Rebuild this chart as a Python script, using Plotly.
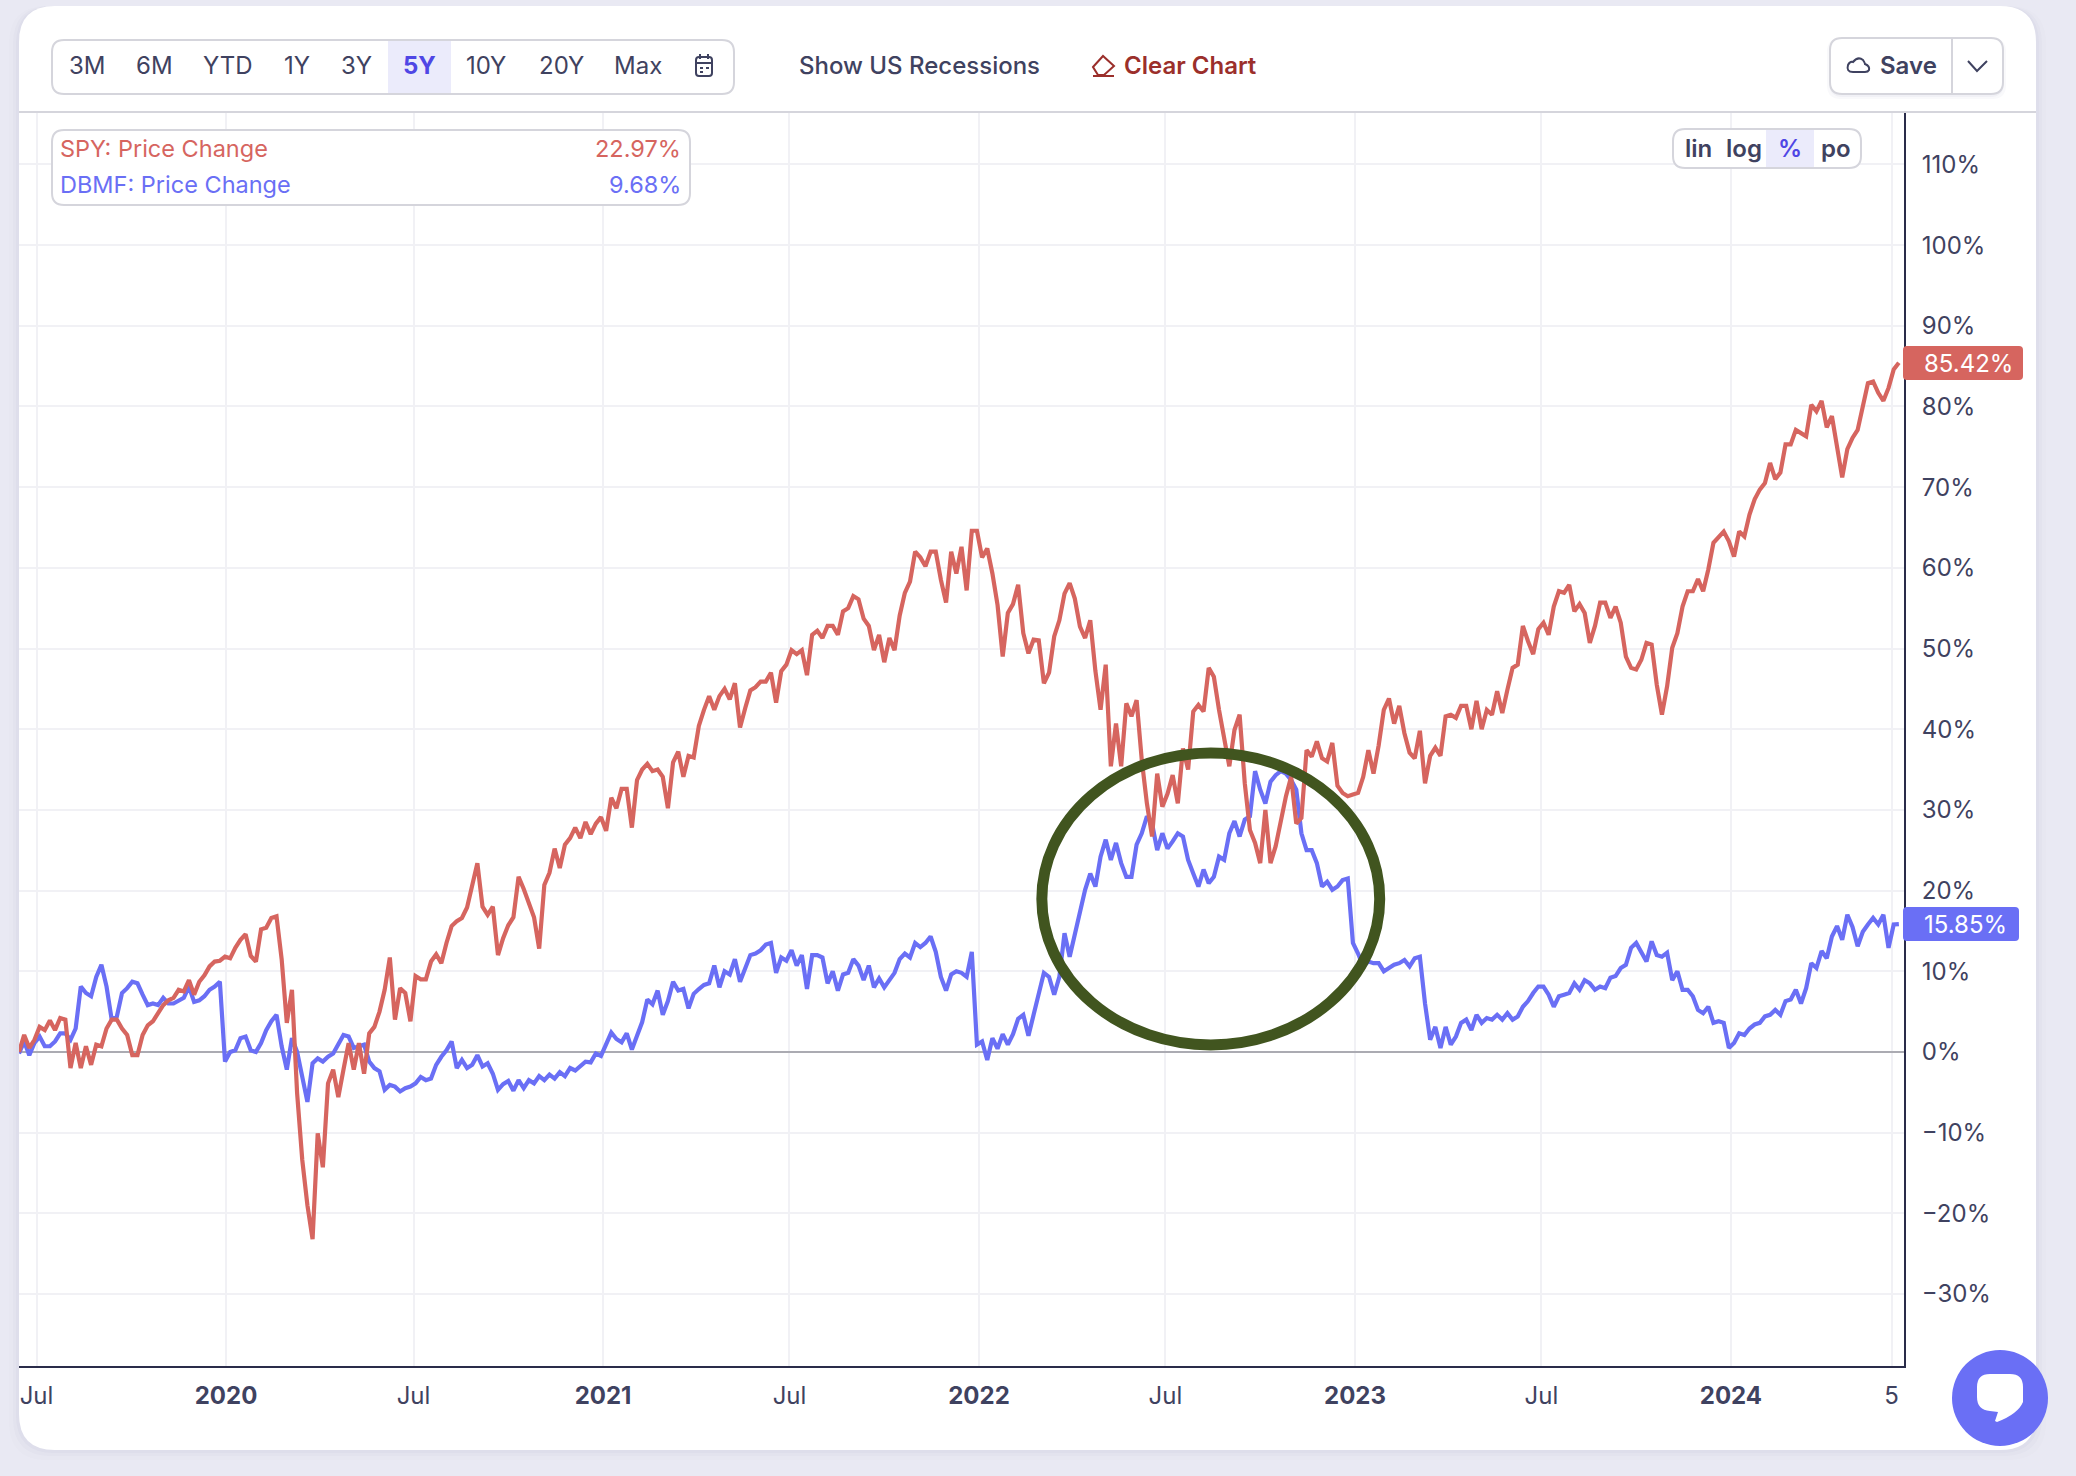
import pandas as pd
import plotly.graph_objects as go

W, H = 2076, 1476
series_start = "2019-06-14"
range_buttons = ["3M", "6M", "YTD", "1Y", "3Y", "5Y", "10Y", "20Y", "Max"]
scale_buttons = ["lin", "log", "%", "po"]
tick_dates = ["2019-07-01", "2020-01-01", "2020-07-01", "2021-01-01", "2021-07-01", "2022-01-01",
              "2022-07-01", "2023-01-01", "2023-07-01", "2024-01-01", "2024-06-05"]
tick_labels = ["Jul", "<b>2020</b>", "Jul", "<b>2021</b>", "Jul", "<b>2022</b>", "Jul", "<b>2023</b>",
               "Jul", "<b>2024</b>", "5"]
y_ticks = [-30, -20, -10, 0, 10, 20, 30, 40, 50, 60, 70, 80, 90, 100, 110]
y_labels = ["−30%", "−20%", "−10%", "0%", "10%", "20%", "30%", "40%", "50%", "60%", "70%", "80%",
            "90%", "100%", "110%"]
spy_name, dbmf_name = "SPY: Price Change", "DBMF: Price Change"
spy_change, dbmf_change = "22.97%", "9.68%"
spy_last, dbmf_last = "85.42%", "15.85%"

spy_values = [
    0, 2.1, 0.5, 1.5, 3.1, 2.7, 3.9, 2.7, 4.2, 4.0,
    -2.0, 1.1, -2.0, 0.7, -1.6, 0.9, 0.7, 2.9, 4.0, 4.0,
    2.9, 2.1, -0.4, -0.4, 2.1, 3.3, 3.8, 4.8, 5.8, 6.4,
    6.7, 7.7, 7.5, 8.9, 7.1, 8.7, 9.5, 10.6, 11.2, 11.3,
    11.8, 11.6, 12.9, 13.9, 14.6, 11.9, 11.2, 15.2, 15.4, 16.6,
    16.8, 11.5, 3.6, 7.7, -5.1, -13.4, -19, -23.2, -10.1, -14.3,
    -3.9, -2.2, -5.6, -2.2, 1.1, -2.2, 1.1, -2.7, 2.3, 3.1,
    5.0, 7.7, 11.7, 4.0, 7.9, 7.3, 3.8, 9.4, 9.0, 9.0,
    11.2, 12.1, 11.0, 13.5, 15.6, 16.2, 16.6, 17.9, 20.6, 23.4,
    18, 17, 18, 12, 14.1, 15.7, 16.7, 21.7, 20.2, 18.3,
    16.7, 12.8, 20.7, 22.2, 25.2, 22.8, 25.7, 26.5, 27.8, 26.5,
    28.5, 27, 28.3, 29.1, 27.4, 31.5, 30.2, 32.6, 32.6, 27.8,
    33.7, 35, 35.7, 34.8, 35, 34.1, 30.2, 35.9, 37.2, 34.1,
    36.7, 36.5, 40.4, 42.4, 44.1, 42.4, 44.1, 45, 43.7, 45.7,
    40.2, 42.6, 44.8, 45.2, 45.9, 45.9, 47, 43.3, 47.2, 48,
    49.8, 49.3, 49.8, 46.7, 51.7, 52.2, 51.3, 52.8, 52.8, 51.7,
    54.6, 55, 56.5, 56.1, 53.7, 52.8, 49.8, 51.7, 48.3, 51.3,
    49.8, 54.1, 56.9, 58.3, 62, 61.3, 60.2, 62, 62, 58.5,
    55.7, 62, 59.3, 62.6, 57.2, 64.6, 64.6, 61.3, 62.4, 59.3,
    55.4, 49, 54.4, 55.5, 57.9, 51.9, 49.4, 51.1, 51, 45.7,
    47, 51.5, 53.5, 56.8, 58.1, 56.2, 52.7, 51.3, 53.5, 47.2,
    42.4, 48, 35.4, 40.7, 35.4, 43.2, 41.6, 43.6, 36.2, 30.8,
    26.7, 34.5, 30.4, 32, 34.3, 30.8, 37.6, 35, 42.2, 43,
    42.2, 47.6, 46.5, 42.4, 39.1, 35.4, 39.9, 41.8, 33.3, 27.5,
    25.9, 23.4, 30, 23.4, 25.5, 28.8, 31.7, 34.1, 28.3, 29,
    37.4, 36.6, 38.5, 36.4, 36, 38.3, 33, 32.1, 31.7, 31.9,
    32.1, 34.1, 37.4, 34.5, 38, 42.4, 43.8, 40.7, 42.9, 39.5,
    37.1, 36.4, 39.8, 33.3, 36.7, 37.7, 36.7, 41.6, 41.8, 41.4,
    42.9, 42.9, 40, 43.5, 40, 42.4, 41.8, 44.7, 42, 44.9,
    47.6, 48, 52.8, 50.9, 49.3, 52.4, 53.2, 51.7, 55.2, 57.1,
    56.9, 57.9, 54.6, 55.5, 54.4, 50.7, 52.8, 55.7, 55.7, 53.8,
    55.2, 53.2, 49, 47.6, 47.4, 48.6, 50.7, 50.5, 45.5, 41.8,
    45.3, 50.1, 51.9, 55.2, 57.1, 57.1, 58.6, 57.1, 59.8, 63.1,
    63.9, 64.5, 63.3, 61.4, 64.5, 63.9, 66.6, 68.5, 69.7, 70.5,
    73, 71, 71.8, 75.3, 75.3, 77.1, 76.7, 76.3, 80.2, 79.4,
    80.7, 77.4, 78.8, 74.7, 71.2, 74.7, 76.1, 77.1, 79.8, 82.9,
    83.1, 81.7, 80.7, 82.3, 84.6, 85.42,
]

dbmf_values = [
    -0.2, 1.3, -0.4, 1.1, 1.9, 0.7, 0.7, 1.3, 2.3, 2.3,
    1.5, 2.9, 8.1, 7.3, 6.9, 9.3, 10.8, 8.1, 4.0, 4.4,
    7.3, 7.9, 8.7, 8.5, 7.1, 5.8, 6.0, 5.8, 6.7, 6.0,
    6.0, 6.4, 6.7, 8.1, 6.2, 6.4, 6.9, 7.7, 8.1, 8.7,
    -1.2, 0, 0.2, 1.7, 1.9, 0.2, 0, 1.1, 2.7, 3.8,
    4.6, 0.7, -2.2, 1.7, 0, -3.1, -6.2, -1.4, -0.8, -1.2,
    -0.6, -0.2, 0.9, 2.1, 1.9, 0.5, 0.7, 0.9, -1.2, -2.0,
    -2.4, -4.7, -4.1, -4.3, -4.9, -4.5, -4.3, -3.9, -3.1, -3.5,
    -3.3, -1.6, -0.6, 0.2, 1.3, -2.0, -1.0, -2.0, -1.6, -0.4,
    -1.8, -1.4, -2.7, -4.7, -4.0, -3.6, -4.8, -3.5, -4.5, -3.5,
    -3.9, -3, -3.5, -2.8, -3.3, -2.5, -3, -2, -2.3, -1.8,
    -1.2, -1.3, -0.2, -0.5, 1.0, 2.4, 1.6, 1.2, 2.3, 0.3,
    2, 3.7, 6.5, 5.9, 7.6, 4.6, 6.3, 8.7, 7.6, 7.8,
    5.4, 7.2, 7.8, 8.3, 8.5, 10.7, 8, 10, 9.6, 11.5,
    8.7, 10.2, 12, 12.2, 12.6, 13.3, 13.5, 9.8, 11.7, 11.3,
    12.6, 10.7, 12, 7.8, 12, 12, 11.7, 8.5, 10, 7.6,
    9.6, 9.8, 11.5, 10.7, 8.9, 10.7, 8, 9.1, 8, 8.9,
    9.8, 11.5, 12.2, 11.7, 13.5, 13, 13.5, 14.3, 12.4, 9.3,
    7.6, 9.6, 10, 9.8, 9.3, 12.4, 0.9, 1.3, -1.0, 1.7,
    0.4, 2.2, 0.9, 2.2, 4.1, 4.6, 2, 4.6, 7.2, 9.8,
    9.3, 7.1, 9.3, 14.7, 11.8, 14.7, 17.2, 20.1, 22.1, 20.5,
    24.2, 26.3, 23.8, 25.9, 23.4, 21.7, 21.7, 25.7, 27.1, 29.2,
    28.3, 25, 27.1, 25.2, 26.1, 27.1, 26.7, 23.8, 22.1, 20.5,
    22.6, 20.9, 21.7, 24.2, 23.8, 27.1, 28.6, 26.7, 28.8, 29.2,
    34.8, 32.5, 30.8, 33.5, 34.3, 34.8, 34.5, 33.7, 32.5, 27.1,
    25, 25, 23.4, 20.5, 21.1, 20.1, 20.5, 21.3, 21.5, 13.5,
    12.2, 10.6, 11.2, 11, 11, 10, 10.4, 10.8, 11, 11.4,
    10.6, 11.6, 11.8, 6, 1.5, 3.1, 0.5, 3.1, 0.9, 1.9,
    3.6, 4, 2.7, 4.6, 3.6, 4.2, 4, 4.6, 4, 4.8,
    4, 4.4, 5.6, 6.3, 7.3, 8.1, 8.1, 7.1, 5.6, 6.9,
    7.1, 7.3, 8.5, 7.7, 8.9, 8.5, 7.7, 8.1, 7.9, 9.2,
    9.4, 10.4, 10.8, 12.9, 13.5, 12.3, 11.2, 13.7, 12, 11.8,
    12.3, 8.9, 10, 7.7, 7.7, 6.9, 5.2, 4.8, 5.6, 3.6,
    3.8, 3.6, 0.5, 1.1, 2.3, 2.1, 2.9, 3.4, 3.6, 4.4,
    4.6, 5.2, 4.6, 6.3, 6.5, 7.7, 6, 7.9, 11, 10.4,
    12.5, 11.6, 14.3, 15.6, 13.9, 17, 15.5, 13.1, 14.9, 15.8,
    16.6, 15.8, 17, 12.9, 15.8, 15.85,
]
assert len(spy_values) == len(dbmf_values)
dates = pd.date_range(series_start, periods=len(spy_values), freq="5D")

RED, BLUE, INK, ACCENT, BRICK, EDGE = "#D6655F", "#6A6FF5", "#3F4260", "#4F46E5", "#9B2F2B", "#D5D5DC"
FONT = "Inter"


def px(x):
    return x / W


def py(y):
    return 1 - y / H


def rrect(x0, y0, x1, y1, r):
    """SVG path for a rounded rectangle, in page pixels scaled to paper."""
    return (f"M{px(x0 + r)},{py(y0)} L{px(x1 - r)},{py(y0)} Q{px(x1)},{py(y0)} {px(x1)},{py(y0 + r)} "
            f"L{px(x1)},{py(y1 - r)} Q{px(x1)},{py(y1)} {px(x1 - r)},{py(y1)} L{px(x0 + r)},{py(y1)} "
            f"Q{px(x0)},{py(y1)} {px(x0)},{py(y1 - r)} L{px(x0)},{py(y0 + r)} Q{px(x0)},{py(y0)} {px(x0 + r)},{py(y0)} Z")


def poly(points, close=False):
    d = "M" + " L".join(f"{px(a)},{py(b)}" for a, b in points)
    return d + (" Z" if close else "")


shapes, notes = [], []


def box(x0, y0, x1, y1, r, fill="rgba(0,0,0,0)", line=None, lw=2, layer="above"):
    shapes.append(dict(type="path", xref="paper", yref="paper", path=rrect(x0, y0, x1, y1, r), fillcolor=fill,
                       line=dict(color=line or "rgba(0,0,0,0)", width=lw if line else 0), layer=layer))


def stroke(points, color, lw=2, close=False, fill="rgba(0,0,0,0)"):
    shapes.append(dict(type="path", xref="paper", yref="paper", path=poly(points, close), fillcolor=fill,
                       line=dict(color=color, width=lw), layer="above"))


def text(x, y, s, color=INK, size=24, anchor="center", weight=400):
    notes.append(dict(xref="paper", yref="paper", x=px(x), y=py(y), text=s, showarrow=False, xanchor=anchor,
                      yanchor="middle", font=dict(family=FONT, size=size, color=color, weight=weight)))


# card, with a soft shadow
for grow, alpha in ((10, 0.012), (6, 0.02), (3, 0.025)):
    box(19 - grow, 6, 2036 + grow, 1450 + grow, 38, fill=f"rgba(60,60,120,{alpha})", layer="below")
box(19, 6, 2036, 1450, 36, fill="#FFFFFF", layer="below")
stroke([(19, 112), (2036, 112)], EDGE)

# range selector
box(52, 40, 734, 94, 12, fill="#FFFFFF", line=EDGE, lw=2)
shapes.append(dict(type="rect", xref="paper", yref="paper", x0=px(388), x1=px(451), y0=py(93), y1=py(41),
                   fillcolor="#EBEBFB", line=dict(width=0), layer="above"))
for label, cx in zip(range_buttons, [87, 154, 228, 297, 356, 419, 486, 561, 638]):
    active = label == "5Y"
    text(cx, 66, label, color=ACCENT if active else INK, weight=700 if active else 400)
box(696, 57, 712, 76, 3, line=INK, lw=2)
stroke([(696, 63), (712, 63)], INK)
stroke([(700, 54), (700, 59)], INK)
stroke([(708, 54), (708, 59)], INK)
stroke([(700, 68), (703, 68)], INK)
stroke([(706, 68), (709, 68)], INK)
stroke([(700, 72), (703, 72)], INK)

text(797, 66, "Show US Recessions", anchor="left", weight=500)
text(1122, 66, "Clear Chart", color=BRICK, anchor="left", weight=600)
stroke([(1093, 67), (1103, 56), (1114, 66), (1104, 75), (1098, 75)], BRICK, close=True)
stroke([(1093, 76), (1114, 76)], BRICK)

# save control
for off, a in ((5, 0.03), (3, 0.04)):
    box(1830 - off + 2, 38, 2003 + off - 2, 94 + off, 14, fill=f"rgba(60,60,120,{a})")
box(1830, 38, 2003, 94, 12, fill="#FFFFFF", line=EDGE)
stroke([(1952, 39), (1952, 93)], EDGE)
text(1908, 66, "Save", weight=600)
shapes.append(dict(type="path", xref="paper", yref="paper", layer="above", fillcolor="rgba(0,0,0,0)",
                   line=dict(color=INK, width=2),
                   path=(f"M{px(1853)},{py(72)} Q{px(1846)},{py(72)} {px(1848)},{py(65)} Q{px(1850)},{py(61)} {px(1853)},{py(62)} "
                         f"Q{px(1858)},{py(56)} {px(1863)},{py(60)} Q{px(1865)},{py(63)} {px(1865)},{py(64)} "
                         f"Q{px(1870)},{py(66)} {px(1869)},{py(70)} Q{px(1868)},{py(72)} {px(1865)},{py(72)} Z")))
stroke([(1968, 61), (1977, 71), (1987, 61)], INK)

# legend panel
box(52, 130, 690, 205, 12, fill="#FFFFFF", line=EDGE)
text(58, 149, spy_name, color=RED, anchor="left", size=23.5)
text(683, 149, spy_change, color=RED, anchor="right", size=23.5)
text(58, 185, dbmf_name, color=BLUE, anchor="left", size=23.5)
text(683, 185, dbmf_change, color=BLUE, anchor="right", size=23.5)

# scale selector
box(1673, 129, 1861, 168, 12, fill="#FFFFFF", line=EDGE)
shapes.append(dict(type="rect", xref="paper", yref="paper", x0=px(1766), x1=px(1814), y0=py(167), y1=py(130),
                   fillcolor="#EBEBFB", line=dict(width=0), layer="above"))
for label, cx in zip(scale_buttons, [1698, 1744, 1790, 1836]):
    text(cx, 149, label, color=ACCENT if label == "%" else INK, weight=600)

# value tags on the axis
box(1903, 346, 2023, 380, 4, fill=RED)
text(1922, 363, spy_last, color="#FFFFFF", anchor="left")
box(1903, 907, 2019, 941, 4, fill=BLUE)
text(1922, 924, dbmf_last, color="#FFFFFF", anchor="left")

# hand-drawn circle around the 2022 stretch
shapes.append(dict(type="circle", xref="x", yref="y", x0="2022-03-03", x1="2023-01-25", y0=0.87, y1=37.06,
                   line=dict(color="#41551F", width=11), fillcolor="rgba(0,0,0,0)", layer="above"))

# chat bubble
shapes.append(dict(type="circle", xref="paper", yref="paper", x0=px(1952), x1=px(2048), y0=py(1446), y1=py(1350),
                   fillcolor=BLUE, line=dict(width=0), layer="above"))
shapes.append(dict(type="path", xref="paper", yref="paper", layer="above", fillcolor="#FFFFFF", line=dict(width=0),
                   path=(f"M{px(1990)},{py(1374)} L{px(2010)},{py(1374)} Q{px(2023)},{py(1374)} {px(2023)},{py(1387)} "
                         f"L{px(2023)},{py(1402)} Q{px(2018)},{py(1414)} {px(1997)},{py(1422)} L{px(1995)},{py(1421)} "
                         f"L{px(1998)},{py(1412)} L{px(1990)},{py(1411)} Q{px(1977)},{py(1410)} {px(1977)},{py(1397)} "
                         f"L{px(1977)},{py(1387)} Q{px(1977)},{py(1374)} {px(1990)},{py(1374)} Z")))

fig = go.Figure()
fig.add_trace(go.Scatter(x=dates, y=dbmf_values, mode="lines", name=dbmf_name,
                         line=dict(color=BLUE, width=4.2)))
fig.add_trace(go.Scatter(x=dates, y=spy_values, mode="lines", name=spy_name,
                         line=dict(color=RED, width=4.2)))

fig.update_layout(
    width=W, height=H, autosize=False, margin=dict(l=0, r=0, t=0, b=0, pad=0), showlegend=False,
    paper_bgcolor="#E9E9F3", plot_bgcolor="rgba(0,0,0,0)", hovermode=False,
    font=dict(family=FONT, size=24, color=INK), shapes=shapes, annotations=notes,
    xaxis=dict(type="date", domain=[px(19), px(1904)], range=["2019-06-14", "2024-06-17"], tickmode="array",
               tickvals=tick_dates, ticktext=tick_labels, tickangle=0, showgrid=True, gridcolor="#F1F1F5", gridwidth=2,
               showline=True, linecolor="#2A2C4A", linewidth=2, ticks="outside", ticklen=7,
               tickcolor="rgba(0,0,0,0)", tickfont=dict(family=FONT, size=24, color=INK), zeroline=False),
    yaxis=dict(domain=[py(1366), py(112)], range=[-38.93, 116.5], side="right", tickmode="array", tickvals=y_ticks,
               ticktext=y_labels, showgrid=True, gridcolor="#F1F1F5", gridwidth=2, zeroline=True,
               zerolinecolor="#ABABB2", zerolinewidth=2, showline=True, linecolor="#2A2C4A", linewidth=2,
               ticks="outside", ticklen=11, tickcolor="rgba(0,0,0,0)",
               tickfont=dict(family=FONT, size=24, color=INK)),
)

fig.write_html("out.html", config=dict(displayModeBar=False),
               post_script="document.body.style.margin='0';document.body.style.overflow='hidden';")
